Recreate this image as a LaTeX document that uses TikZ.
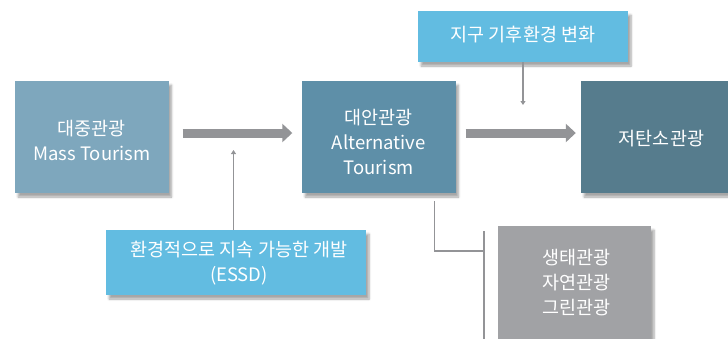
\documentclass[tikz,border=0pt]{standalone}
\usepackage{fontspec}
\setmainfont{Noto Sans CJK KR}
\usetikzlibrary{arrows.meta,shadows.blur,positioning}
\definecolor{cA}{HTML}{7EA7BD}
\definecolor{cB}{HTML}{5E8FA8}
\definecolor{cC}{HTML}{567C8D}
\definecolor{cL}{HTML}{62BCE1}
\definecolor{cG}{HTML}{A1A2A5}
\definecolor{cArr}{HTML}{939497}
\begin{document}
\begin{tikzpicture}[x=1pt,y=-1pt,
  box/.style={draw=none, inner sep=0pt,
    blur shadow={shadow xshift=3pt, shadow yshift=-4pt, shadow blur steps=6, shadow opacity=35}},
  txt/.style={inner sep=0pt, align=center, text=white, font=\fontsize{18.5}{25}\selectfont},
  bigarrow/.style={draw=cArr, line width=9pt, -{Triangle[length=10pt,width=18pt]}},
  thinarrow/.style={draw=cArr, line width=1.6pt, -{Triangle[length=4pt,width=5pt]}},
  thinline/.style={draw=cArr, line width=1.8pt}]
\useasboundingbox (0,0) rectangle (728,338);
% boxes
\node[box, fill=cA, minimum width=153.5pt, minimum height=112pt] (mass) at (91.75,137) {};
\node[box, fill=cB, minimum width=153.5pt, minimum height=112pt] (alt) at (378.75,137) {};
\node[box, fill=cC, minimum width=161pt, minimum height=112pt] (low) at (661.5,137) {};
\node[box, fill=cL, minimum width=210pt, minimum height=51pt] (climate) at (523,36.5) {};
\node[box, fill=cL, minimum width=260pt, minimum height=65pt] (essd) at (236,262.5) {};
\node[box, fill=cG, minimum width=153pt, minimum height=130pt] (eco) at (574.5,291) {};
% texts
\node[txt] (massT) at ([yshift=-3.5pt]mass.center) {대중관광\\Mass Tourism};
\node[txt] (altT) at ([yshift=-5pt]alt.center) {대안관광\\Alternative\\Tourism};
\node[txt] (lowT) at ([yshift=-2pt]low.center) {저탄소관광};
\node[txt] (climateT) at ([yshift=1.5pt]climate.center) {지구 기후환경 변화};
\node[txt] (essdT) at ([xshift=3pt,yshift=-1pt]essd.center) {환경적으로 지속 가능한 개발\\(ESSD)};
\node[txt] (ecoT) at ([xshift=2pt,yshift=8pt]eco.center) {생태관광\\자연관광\\그린관광};
% big arrows
\draw[bigarrow, shorten <=14pt, shorten >=9.5pt] ([yshift=4pt]mass.east) -- ([yshift=4pt]alt.west);
\draw[bigarrow, shorten <=10pt, shorten >=5pt] ([yshift=4pt]alt.east) -- ([yshift=4pt]low.west);
% thin arrows
\coordinate (upend) at (233.5,150);
\draw[thinarrow] (essd.north -| upend) -- (upend);
\coordinate (downend) at (523,105);
\draw[thinarrow] (climate.south -| downend) -- (downend);
% bracket connector
\coordinate (bx) at (434.5,251);
\coordinate (vtop) at (484,231);
\coordinate (vbot) at (484,345);
\draw[thinline, shorten <=8pt] (alt.south -| bx) -- (bx) -- (bx -| vtop);
\draw[thinline] (vtop) -- (vbot);
\end{tikzpicture}
\end{document}
